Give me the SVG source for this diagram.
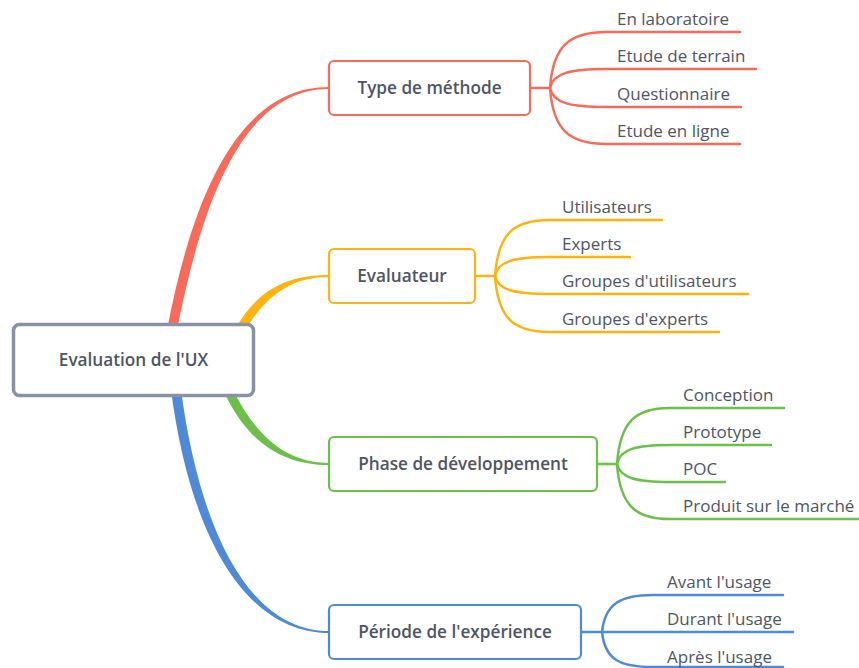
<svg xmlns="http://www.w3.org/2000/svg" width="859" height="668" viewBox="0 0 859 668">
<style>
.box{fill:#fff;stroke-width:2.2}
.lbl{font-family:"Open Sans","Liberation Sans",sans-serif;font-size:17.2px;font-weight:600;fill:#4f5564;text-anchor:middle}
.leaf{font-family:"Open Sans","Liberation Sans",sans-serif;font-size:17px;fill:#4f5564}
.br{fill:none;stroke-width:2.5;stroke-linecap:round}
.red{stroke:#fa6a5a}.yel{stroke:#ffb30f}.grn{stroke:#6cc04a}.blu{stroke:#4f8ad8}
</style>
<rect width="859" height="668" fill="#fff"/>
<g id="connectors">
<path d="M167,330 C197,173 248,87 329,87 L329,89 C252,89 207,177 177,330 Z" fill="#fa6a5a"/>
<path d="M236,328 C258,289 288,275 329,275 L329,277 C292,277 266,295 244,332 Z" fill="#ffb30f"/>
<path d="M232,388 C256,437 287,463 329,463 L329,465 C283,465 248,443 224,392 Z" fill="#6cc04a"/>
<path d="M181,390 C201,538 252,631 329,631 L329,633 C248,633 191,542 171,390 Z" fill="#4f8ad8"/>
<g class="br red">
<path d="M530,88 L550,88"/>
<path d="M550,88 C553,45 570,32 607,32 L740,32"/>
<path d="M550,88 C553,73 570,69 607,69 L756,69"/>
<path d="M550,88 C553,103 570,107 607,107 L741,107"/>
<path d="M550,88 C553,131 570,144 607,144 L740,144"/>
</g>
<g class="br yel">
<path d="M475,276 L495,276"/>
<path d="M495,276 C498,233 514,220 550,220 L662,220"/>
<path d="M495,276 C498,261 514,257 550,257 L630,257"/>
<path d="M495,276 C498,290 514,294 550,294 L748,294"/>
<path d="M495,276 C498,319 514,332 550,332 L719,332"/>
</g>
<g class="br grn">
<path d="M597,464 L617,464"/>
<path d="M617,464 C620,421 636,408 670,408 L784,408"/>
<path d="M617,464 C620,449 636,445 670,445 L771,445"/>
<path d="M617,464 C620,478 636,482 670,482 L725,482"/>
<path d="M617,464 C620,506 636,519 670,519 L859,519"/>
</g>
<g class="br blu">
<path d="M581,632 L602,632"/>
<path d="M602,632 C605,604 620,595 653,595 L783,595"/>
<path d="M602,632 L793,632"/>
<path d="M602,632 C605,660 620,667 653,667 L783,667"/>
</g>
</g>
<g id="root">
<rect x="13.5" y="324.5" width="240" height="71" rx="6" fill="#fff" stroke="#8892a4" stroke-width="3.5"/>
<text class="lbl" x="133.5" y="366">Evaluation de l'UX</text>
</g>
<g id="type">
<rect class="box" x="329" y="61" width="201" height="54" rx="5" stroke="#fa6a5a"/>
<text class="lbl" x="429.5" y="94">Type de méthode</text>
</g>
<g id="evaluateur">
<rect class="box" x="329" y="249" width="146" height="54" rx="5" stroke="#ffb30f"/>
<text class="lbl" x="402" y="282">Evaluateur</text>
</g>
<g id="phase">
<rect class="box" x="329" y="437" width="268" height="54" rx="5" stroke="#6cc04a"/>
<text class="lbl" x="463" y="470">Phase de développement</text>
</g>
<g id="periode">
<rect class="box" x="329" y="605" width="252" height="54" rx="5" stroke="#4f8ad8"/>
<text class="lbl" x="455" y="638">Période de l'expérience</text>
</g>
<g id="leaf-type">
<text class="leaf" x="617" y="25">En laboratoire</text>
<text class="leaf" x="617" y="62">Etude de terrain</text>
<text class="leaf" x="617" y="100">Questionnaire</text>
<text class="leaf" x="617" y="137">Etude en ligne</text>
</g>
<g id="leaf-eval">
<text class="leaf" x="562" y="213">Utilisateurs</text>
<text class="leaf" x="562" y="250">Experts</text>
<text class="leaf" x="562" y="287">Groupes d'utilisateurs</text>
<text class="leaf" x="562" y="325">Groupes d'experts</text>
</g>
<g id="leaf-phase">
<text class="leaf" x="683" y="401">Conception</text>
<text class="leaf" x="683" y="438">Prototype</text>
<text class="leaf" x="683" y="475">POC</text>
<text class="leaf" x="683" y="512">Produit sur le marché</text>
</g>
<g id="leaf-periode">
<text class="leaf" x="667" y="588">Avant l'usage</text>
<text class="leaf" x="667" y="625">Durant l'usage</text>
<text class="leaf" x="667" y="663">Après l'usage</text>
</g>
</svg>
